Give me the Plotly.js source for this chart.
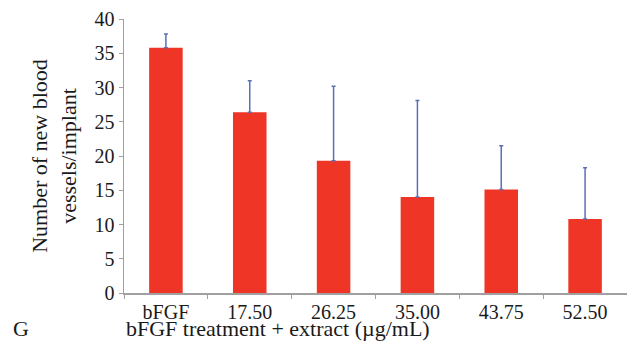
<!DOCTYPE html>
<html>
<head>
<meta charset="utf-8">
<script src="https://cdn.plot.ly/plotly-3.0.1.min.js"></script>
<style>html,body{margin:0;padding:0;background:#fff;}#chart{width:627px;height:343px;}</style>
</head>
<body>
<div id="chart"></div>
<script>
const categories = ['bFGF', '17.50', '26.25', '35.00', '43.75', '52.50'];
const values = [35.8, 26.4, 19.3, 14.0, 15.1, 10.8];
const errorPlus = [2.0, 4.6, 10.9, 14.1, 6.4, 7.5];
const errorMinus = [0, 0, 0, 0, 0, 0];
const yTicks = [0, 5, 10, 15, 20, 25, 30, 35, 40];

const serif = 'Liberation Serif, Times New Roman, serif';

const trace = {
  type: 'bar',
  x: categories,
  y: values,
  marker: {color: '#ee3526', line: {width: 0}},
  error_y: {
    type: 'data',
    symmetric: false,
    array: errorPlus,
    arrayminus: errorMinus,
    color: '#5b6fb5',
    thickness: 1.5,
    width: 2
  },
  hoverinfo: 'none'
};

const layout = {
  width: 627,
  height: 343,
  margin: {l: 124, r: 0, t: 19, b: 50},
  paper_bgcolor: '#ffffff',
  plot_bgcolor: '#ffffff',
  showlegend: false,
  bargap: 0.6,
  font: {family: serif, color: '#1a1a1a', size: 20},
  xaxis: {
    type: 'category',
    showline: true,
    linecolor: '#a0a0a0',
    linewidth: 1.5,
    ticks: 'outside',
    tickson: 'boundaries',
    ticklen: 4,
    tickcolor: '#a0a0a0',
    showgrid: false,
    zeroline: false,
    tickfont: {family: serif, size: 20, color: '#1a1a1a'},
    range: [-0.5, 5.5]
  },
  yaxis: {
    range: [0, 40],
    tickvals: yTicks,
    showline: true,
    linecolor: '#a0a0a0',
    linewidth: 1.5,
    ticks: 'outside',
    ticklen: 4,
    tickcolor: '#a0a0a0',
    showgrid: false,
    zeroline: false,
    tickfont: {family: serif, size: 20, color: '#1a1a1a'},
    title: {
      text: 'Number of new blood<br>vessels/implant',
      font: {family: serif, size: 22, color: '#1a1a1a'},
      standoff: 12
    }
  },
  annotations: [
    {
      text: 'bFGF treatment + extract (µg/mL)',
      xref: 'paper', yref: 'paper',
      x: 0, y: -0.183,
      xanchor: 'left', yanchor: 'bottom',
      showarrow: false,
      font: {family: serif, size: 22, color: '#1a1a1a'}
    },
    {
      text: 'G',
      xref: 'paper', yref: 'paper',
      x: -0.225, y: -0.183,
      xanchor: 'left', yanchor: 'bottom',
      showarrow: false,
      font: {family: serif, size: 22, color: '#1a1a1a'}
    }
  ]
};

Plotly.newPlot('chart', [trace], layout, {staticPlot: true, displayModeBar: false});
</script>
</body>
</html>
